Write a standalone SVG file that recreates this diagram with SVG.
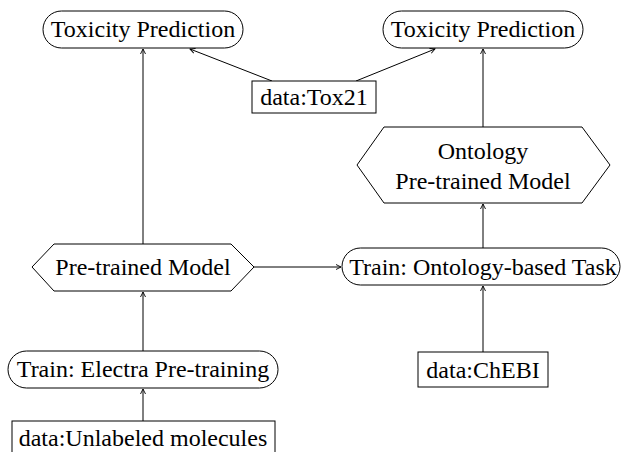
<svg xmlns="http://www.w3.org/2000/svg" width="621" height="452" viewBox="0 0 621 452">
<style>
.n{fill:#fff;stroke:#000;stroke-width:1}
.t{font-family:"Liberation Serif","Times New Roman",serif;font-size:24px;fill:#000;text-anchor:middle}
.e{fill:none;stroke:#000;stroke-width:1;marker-end:url(#ah)}
</style>
<defs>
<marker id="ah" markerWidth="8" markerHeight="8" refX="6" refY="4" orient="auto" markerUnits="userSpaceOnUse">
<path d="M1,1.5 L6,4 L1,6.5" fill="none" stroke="#000" stroke-width="0.9"/>
</marker>
</defs>
<rect width="621" height="452" fill="#fff"/>
<g id="edges">
<line class="e" x1="143" y1="244" x2="143" y2="49"/>
<line class="e" x1="272" y1="81" x2="190" y2="49"/>
<line class="e" x1="356" y1="81" x2="435" y2="49"/>
<line class="e" x1="483" y1="127" x2="483" y2="49"/>
<line class="e" x1="143" y1="351" x2="143" y2="292"/>
<line class="e" x1="143" y1="421" x2="143" y2="389"/>
<line class="e" x1="254" y1="267" x2="341" y2="267"/>
<line class="e" x1="483" y1="248" x2="483" y2="204"/>
<line class="e" x1="483" y1="352" x2="483" y2="286"/>
</g>
<g id="tox-left">
<rect class="n" x="43" y="11" width="200" height="37" rx="18.5"/>
<text class="t" x="143" y="37">Toxicity Prediction</text>
</g>
<g id="tox-right">
<rect class="n" x="383" y="11" width="200" height="37" rx="18.5"/>
<text class="t" x="483" y="37">Toxicity Prediction</text>
</g>
<g id="tox21">
<rect class="n" x="252" y="81" width="124" height="32"/>
<text class="t" x="314" y="105">data:Tox21</text>
</g>
<g id="onto-model">
<polygon class="n" points="357,165 384,127 582,127 610,165 582,203 384,203"/>
<text class="t" x="483" y="159">Ontology</text>
<text class="t" x="483" y="189">Pre-trained Model</text>
</g>
<g id="pretrained">
<polygon class="n" points="32,267 54,244 231,244 254,267 231,291 54,291"/>
<text class="t" x="143" y="275">Pre-trained Model</text>
</g>
<g id="train-onto">
<rect class="n" x="342" y="248" width="278" height="37" rx="18.5"/>
<text class="t" x="483" y="275">Train: Ontology-based Task</text>
</g>
<g id="electra">
<rect class="n" x="8" y="351" width="270" height="37" rx="18.5"/>
<text class="t" x="143" y="377">Train: Electra Pre-training</text>
</g>
<g id="chebi">
<rect class="n" x="418" y="352" width="130" height="35"/>
<text class="t" x="483" y="378">data:ChEBI</text>
</g>
<g id="unlabeled">
<rect class="n" x="12" y="421" width="263" height="40"/>
<text class="t" x="143" y="446">data:Unlabeled molecules</text>
</g>
</svg>
